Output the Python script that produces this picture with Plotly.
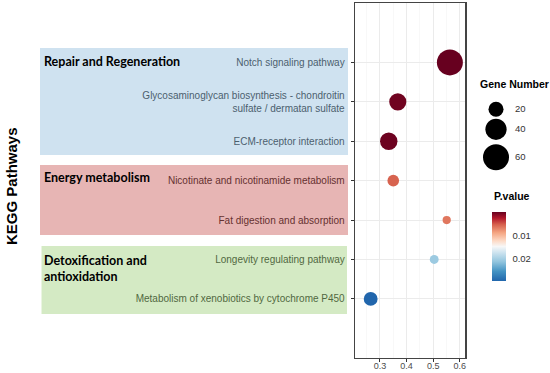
import textwrap
import plotly.graph_objects as go

# ---------------- data ----------------
pathways = [
    "Notch signaling pathway",
    "Glycosaminoglycan biosynthesis - chondroitin sulfate / dermatan sulfate",
    "ECM-receptor interaction",
    "Nicotinate and nicotinamide metabolism",
    "Fat digestion and absorption",
    "Longevity regulating pathway",
    "Metabolism of xenobiotics by cytochrome P450",
]
rich_factor = [0.563, 0.367, 0.333, 0.350, 0.551, 0.504, 0.265]
gene_number = [60, 26, 27, 12, 6, 7, 17]
p_value = [0.0001, 0.0004, 0.0003, 0.0055, 0.0065, 0.0205, 0.0293]

groups = ["Repair and Regeneration", "Energy metabolism",
          "Detoxification and antioxidation"]
x_ticks = [0.3, 0.4, 0.5, 0.6]
size_legend_values = [20, 40, 60]
pvalue_ticks = [0.01, 0.02]
axis_title = "KEGG Pathways"

# ---------------- layout helpers ----------------
W, H = 550, 373


def px(x):
    return x / W


def py(y):
    return 1 - y / H


# plotly area mode: diameter = sqrt(2 * v / sizeref); 60 genes -> 26 px
SIZEREF = 2 * 60 / 26 ** 2
ARIAL = "Liberation Sans, Arial, sans-serif"
TXT = "#444444"

colorscale = [
    [0.00, "#2166ac"], [0.14, "#4393c3"], [0.28, "#92c5de"],
    [0.42, "#d1e5f0"], [0.50, "#f7f7f7"], [0.58, "#fddbc7"],
    [0.70, "#f4a582"], [0.82, "#d6604d"], [0.91, "#b2182b"],
    [1.00, "#67001f"],
]

neg_p = [-p for p in p_value]
tick_text_y = [textwrap.fill(p, 44).replace("\n", "<br>") for p in pathways]

fig = go.Figure()

fig.add_trace(go.Scatter(
    x=rich_factor, y=pathways, mode="markers",
    marker=dict(
        size=gene_number, sizemode="area", sizeref=SIZEREF, sizemin=1,
        color=neg_p, colorscale=colorscale,
        cmin=min(neg_p), cmax=max(neg_p),
        line=dict(width=0), opacity=1,
        colorbar=dict(
            x=px(492), xanchor="left", xpad=0,
            y=py(246.5), yanchor="middle", ypad=0,
            len=69, lenmode="pixels", thickness=14, thicknessmode="pixels",
            outlinewidth=0,
            tickvals=[-t for t in pvalue_ticks],
            ticktext=[f"{t:.2f}" for t in pvalue_ticks],
            ticks="outside", ticklen=5, tickcolor="rgba(0,0,0,0)",
            tickfont=dict(family=ARIAL, size=9.5, color="#333333"),
        ),
    ),
    showlegend=False, hoverinfo="skip",
))

# size legend (in pixel-coordinate axes covering the whole figure)
legend_rows_py = [109.3, 129.3, 157.3]
fig.add_trace(go.Scatter(
    x=[496] * len(size_legend_values), y=legend_rows_py, mode="markers",
    marker=dict(size=size_legend_values, sizemode="area", sizeref=SIZEREF,
                color="black", line=dict(width=0), opacity=1),
    xaxis="x2", yaxis="y2", showlegend=False, hoverinfo="skip",
    cliponaxis=False,
))
fig.add_trace(go.Scatter(
    x=[515] * len(size_legend_values), y=legend_rows_py, mode="text",
    text=[str(v) for v in size_legend_values], textposition="middle right",
    textfont=dict(family=ARIAL, size=9.5, color="#333333"),
    xaxis="x2", yaxis="y2", showlegend=False, hoverinfo="skip",
    cliponaxis=False,
))

# group boxes (semi-transparent, above tick labels to tint them)
boxes = [
    (40, 348, 48, 155, "rgba(95,158,205,0.30)"),
    (40, 348, 165, 235, "rgba(175,10,5,0.30)"),
    (41.5, 347, 246, 314, "rgba(111,185,58,0.30)"),
]
shapes = []
for x0, x1, y0, y1, col in boxes:
    shapes.append(dict(type="rect", xref="paper", yref="paper",
                       x0=px(x0), x1=px(x1), y0=py(y1), y1=py(y0),
                       fillcolor=col, line=dict(width=0), layer="above"))

group_label_py = [61, 177, 268.5]
annotations = []
for g, yy in zip(groups, group_label_py):
    annotations.append(dict(
        text="<b>" + textwrap.fill(g, 24).replace("\n", "<br>") + "</b>",
        xref="paper", yref="paper", x=px(42), y=py(yy),
        xanchor="left", yanchor="middle", align="left", showarrow=False,
        font=dict(family="Lato, sans-serif", size=12.5, color="black"),
    ))
annotations.append(dict(
    text="<b>" + axis_title + "</b>", textangle=-90,
    xref="paper", yref="paper", x=px(11), y=py(186),
    xanchor="center", yanchor="middle", showarrow=False,
    font=dict(family=ARIAL, size=15, color="black"),
))
annotations.append(dict(
    text="<b>Gene Number</b>", xref="paper", yref="paper",
    x=px(514), y=py(84), xanchor="center", yanchor="middle", showarrow=False,
    font=dict(family=ARIAL, size=10.5, color="black"),
))
annotations.append(dict(
    text="<b>P.value</b>", xref="paper", yref="paper",
    x=px(512), y=py(196), xanchor="center", yanchor="middle", showarrow=False,
    font=dict(family=ARIAL, size=10.5, color="black"),
))

fig.update_layout(
    template="none",
    width=W, height=H, margin=dict(l=0, r=0, t=0, b=0, pad=0),
    paper_bgcolor="white", plot_bgcolor="rgba(0,0,0,0)",
    xaxis=dict(
        domain=[px(355), px(465.3)], range=[0.206, 0.621],
        tickvals=x_ticks, ticktext=[f"{v:.1f}" for v in x_ticks],
        tickfont=dict(family=ARIAL, size=9, color="#4d4d4d"),
        ticks="outside", ticklen=3, tickcolor="#333333", tickwidth=1,
        ticklabelstandoff=-4,
        showgrid=True, gridcolor="#ebebeb", gridwidth=1,
        minor=dict(dtick=0.05, tick0=0.25, showgrid=True,
                   gridcolor="#f3f3f3", gridwidth=0.6, ticks=""),
        showline=True, linecolor="#444444", linewidth=1.3, mirror=True,
        zeroline=False, anchor="y", fixedrange=True, automargin=False,
    ),
    yaxis=dict(
        domain=[py(358), py(3.3)], type="category",
        categoryorder="array", categoryarray=pathways[::-1],
        range=[-1.5, 7.5],
        tickvals=pathways, ticktext=tick_text_y,
        tickfont=dict(family=ARIAL, size=10, color=TXT),
        ticks="outside", ticklen=3, tickcolor="#333333", tickwidth=1,
        ticklabelstandoff=4,
        showgrid=True, gridcolor="#ebebeb", gridwidth=1,
        showline=True, linecolor="#444444", linewidth=1.3, mirror=True,
        zeroline=False, anchor="x", fixedrange=True, automargin=False,
    ),
    xaxis2=dict(domain=[0, 1], range=[0, W], visible=False,
                anchor="y2", fixedrange=True, automargin=False),
    yaxis2=dict(domain=[0, 1], range=[H, 0], visible=False,
                anchor="x2", fixedrange=True, automargin=False),
    shapes=shapes, annotations=annotations,
)

fig.write_html(
    "out.html",
    config={"displayModeBar": False, "staticPlot": True},
    post_script="document.body.style.margin='0';"
                "document.body.style.overflow='hidden';",
)
